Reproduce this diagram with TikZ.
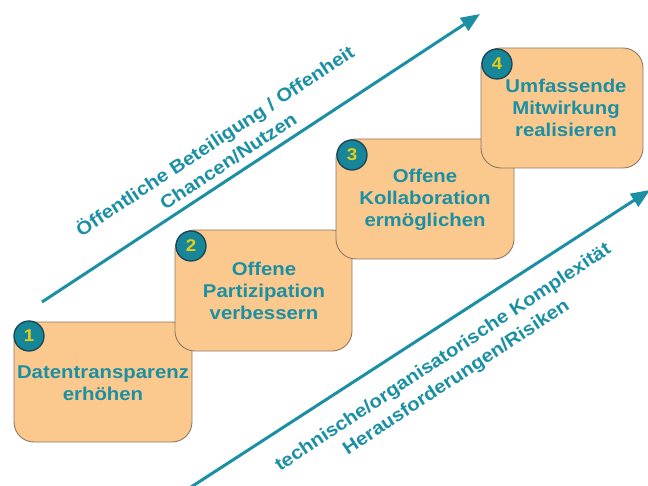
\documentclass[tikz,border=0pt]{standalone}
\usepackage{fontspec}
\setmainfont{Liberation Sans}
\newfontfamily\boxfont[FakeStretch=1.1]{Liberation Sans}
\usetikzlibrary{arrows.meta}
\definecolor{teal1}{RGB}{27,143,163}
\definecolor{peach}{RGB}{251,201,142}
\definecolor{boxline}{RGB}{140,120,100}
\definecolor{circfill}{RGB}{22,134,152}
\definecolor{circline}{RGB}{25,70,85}
\definecolor{numyellow}{RGB}{232,205,20}
\tikzset{
  stepbox/.style={draw=boxline, line width=0.9pt, fill=peach, rounded corners=20pt},
  steptext/.style={text=teal1, align=center, font=\boxfont\bfseries\fontsize{18.5}{22}\selectfont},
  numcirc/.style={circle, draw=circline, line width=1.3pt, fill=circfill, minimum size=30pt, inner sep=0pt,
     text=numyellow, font=\boxfont\bfseries\fontsize{17}{17}\selectfont},
  bigarrow/.style={draw=teal1, line width=3pt, -{Triangle[length=19pt,width=15pt]}},
  arrowtext/.style={text=teal1, align=center, rotate=33.5, font=\boxfont\bfseries\fontsize{18.5}{24}\selectfont}
}
\begin{document}
\begin{tikzpicture}[x=1pt,y=-1pt]
\useasboundingbox (0,0) rectangle (648,486);
% arrows
\coordinate (a1s) at (42,302);
\coordinate (a1e) at (480,14);
\coordinate (a2s) at (188,489);
\coordinate (a2e) at (650,190);
\draw[bigarrow] (a1s) -- (a1e);
\draw[bigarrow] (a2s) -- (a2e);
\node[arrowtext] (t1) at (221,150) {Öffentliche Beteiligung / Offenheit\\Chancen/Nutzen};
\node[arrowtext] (t2) at (450,368) {technische/organisatorische Komplexität\\Herausforderungen/Risiken};
% boxes
\draw[stepbox] (14,322) rectangle (192,442);
\node[steptext] (b1) at (103,383) {Datentransparenz\\erhöhen};
\node[numcirc] (c1) at (29,336) {1};
\draw[stepbox] (175,230) rectangle (352,351);
\node[steptext] (b2) at (264,291) {Offene\\Partizipation\\verbessern};
\node[numcirc] (c2) at (191,246) {2};
\draw[stepbox] (336,139) rectangle (514,259);
\node[steptext] (b3) at (425,200) {Offene\\Kollaboration\\ermöglichen};
\node[numcirc] (c3) at (352,155) {3};
\draw[stepbox] (481,48) rectangle (643,168);
\node[steptext] (b4) at (566,108) {Umfassende\\Mitwirkung\\realisieren};
\node[numcirc] (c4) at (497,64) {4};
\end{tikzpicture}
\end{document}
